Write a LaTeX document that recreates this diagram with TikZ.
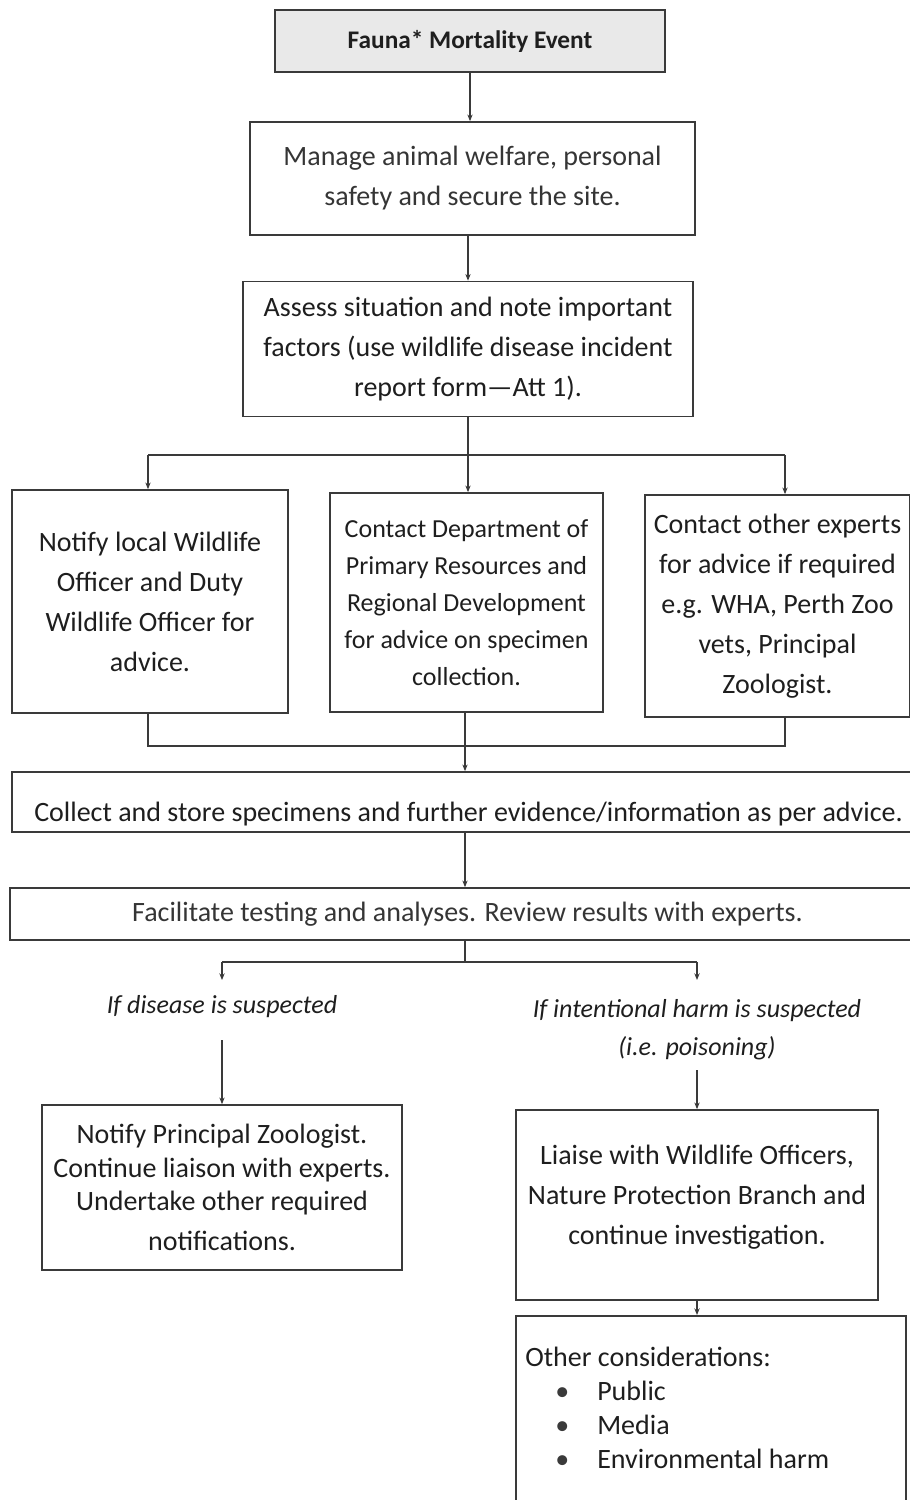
\documentclass[tikz,border=0pt]{standalone}
\usepackage{fontspec}
\setmainfont{Carlito}
\usetikzlibrary{arrows.meta}
\definecolor{linec}{HTML}{3A3A3A}
\definecolor{txtc}{HTML}{1E1E1E}
\definecolor{txtl}{HTML}{353535}
\definecolor{topfill}{HTML}{E9E9E9}
\begin{document}
\begin{tikzpicture}[x=0.75pt,y=-0.75pt,
  box/.style={draw=linec, line width=1.3pt, align=center, inner sep=0pt, text=txtc, font=\fontsize{21}{30}\selectfont},
  conn/.style={draw=linec, line width=1.3pt},
  arr/.style={conn, -{Stealth[length=5pt,width=4pt]}},
  lab/.style={align=center, inner sep=0pt, text=txtc, font=\fontsize{19.5}{28.5}\selectfont\itshape}]
\useasboundingbox (0,0) rectangle (910,1500);
\clip (0,0) rectangle (910,1500);

\node[box, fill=topfill, minimum width=292.5pt, minimum height=46.5pt, font=\fontsize{19}{22}\selectfont\bfseries] (top) at (470,41) {Fauna* Mortality Event};
\node[box, minimum width=333.75pt, minimum height=84.75pt, text=txtl] (manage) at (472.5,178.5) {Manage animal welfare, personal\\safety and secure the site.};
\node[box, minimum width=337.5pt, minimum height=101.25pt] (assess) at (468,349) {Assess situation and note important\\factors (use wildlife disease incident\\report form—Att 1).};

\node[box, minimum width=207pt, minimum height=167.25pt] (left) at (150,601.5) {Notify local Wildlife\\Officer and Duty\\Wildlife Officer for\\advice.};
\node[box, minimum width=204.75pt, minimum height=164.25pt, font=\fontsize{19.5}{27.75}\selectfont] (middle) at (466.5,602.5) {Contact Department of\\Primary Resources and\\Regional Development\\for advice on specimen\\collection.};
\node[box, minimum width=198.75pt, minimum height=166.5pt] (right) at (777.5,606) {Contact other experts\\for advice if required\\e.g. WHA, Perth Zoo\\vets, Principal\\Zoologist.};

\node[box, minimum width=684.75pt, text height=36.75pt, text depth=8.25pt, font=\fontsize{21}{24}\selectfont] (collect) at (468.5,802) {Collect and store specimens and further evidence/information as per advice.};
\node[box, minimum width=686.25pt, minimum height=39pt, font=\fontsize{21}{24}\selectfont, text=txtl] (facil) at (467.5,914) {Facilitate testing and analyses. Review results with experts.};

\node[lab] (lab1) at (222,1007) {If disease is suspected};
\node[lab] (lab2) at (697,1030) {If intentional harm is suspected\\(i.e. poisoning)};

\node[box, minimum width=270pt, minimum height=123.75pt, font=\fontsize{21}{25}\selectfont] (notify) at (222,1187.5) {Notify Principal Zoologist.\\Continue liaison with experts.\\Undertake other required\\[5pt]notifications.};
\node[box, minimum width=271.5pt, minimum height=142.5pt] (liaise) at (697,1205) {Liaise with Wildlife Officers,\\Nature Protection Branch and\\continue investigation.\rule[-16pt]{0pt}{0pt}};

\node[box, anchor=north west, minimum width=292.5pt, minimum height=150pt] (other) at (515,1315) {};
\node[anchor=north west, align=left, inner sep=0pt, text=txtc, font=\fontsize{21}{25.5}\selectfont] (othertext) at (525,1347) {Other considerations:\\\hspace*{22.5pt}\makebox[31.5pt][l]{\textcolor{linec}{\textbullet}}Public\\\hspace*{22.5pt}\makebox[31.5pt][l]{\textcolor{linec}{\textbullet}}Media\\\hspace*{22.5pt}\makebox[31.5pt][l]{\textcolor{linec}{\textbullet}}Environmental harm};

% connectors
\draw[arr] (top.south) -- (top.south |- manage.north);
\draw[arr] (assess.north |- manage.south) -- (assess.north);

\coordinate (bm) at (468,455);
\coordinate (bl) at (148,455);
\coordinate (br) at (785,455);
\draw[conn] (assess.south) -- (bm);
\draw[conn] (bl) -- (br);
\draw[arr] (bl) -- (bl |- left.north);
\draw[arr] (bm) -- (bm |- middle.north);
\draw[arr] (br) -- (br |- right.north);

\coordinate (ml) at (148,746);
\coordinate (mm) at (465,746);
\coordinate (mr) at (785,746);
\draw[conn] (ml |- left.south) -- (ml) -- (mr) -- (mr |- right.south);
\draw[conn] (mm |- middle.south) -- (mm);
\draw[arr] (mm) -- (mm |- collect.north);
\draw[arr] (mm |- collect.south) -- (mm |- facil.north);

\coordinate (fm) at (465,962);
\coordinate (fl) at (222,962);
\coordinate (fr) at (697,962);
\coordinate (dl) at (222,980);
\coordinate (dr) at (697,980);
\draw[conn] (mm |- facil.south) -- (fm);
\draw[conn] (fl) -- (fr);
\draw[arr] (fl) -- (dl);
\draw[arr] (fr) -- (dr);

\coordinate (s1) at (222,1040);
\coordinate (s2) at (697,1070);
\draw[arr] (s1) -- (notify.north);
\draw[arr] (s2) -- (liaise.north);
\draw[arr] (liaise.south -| s2) -- (other.north -| s2);
\end{tikzpicture}
\end{document}
